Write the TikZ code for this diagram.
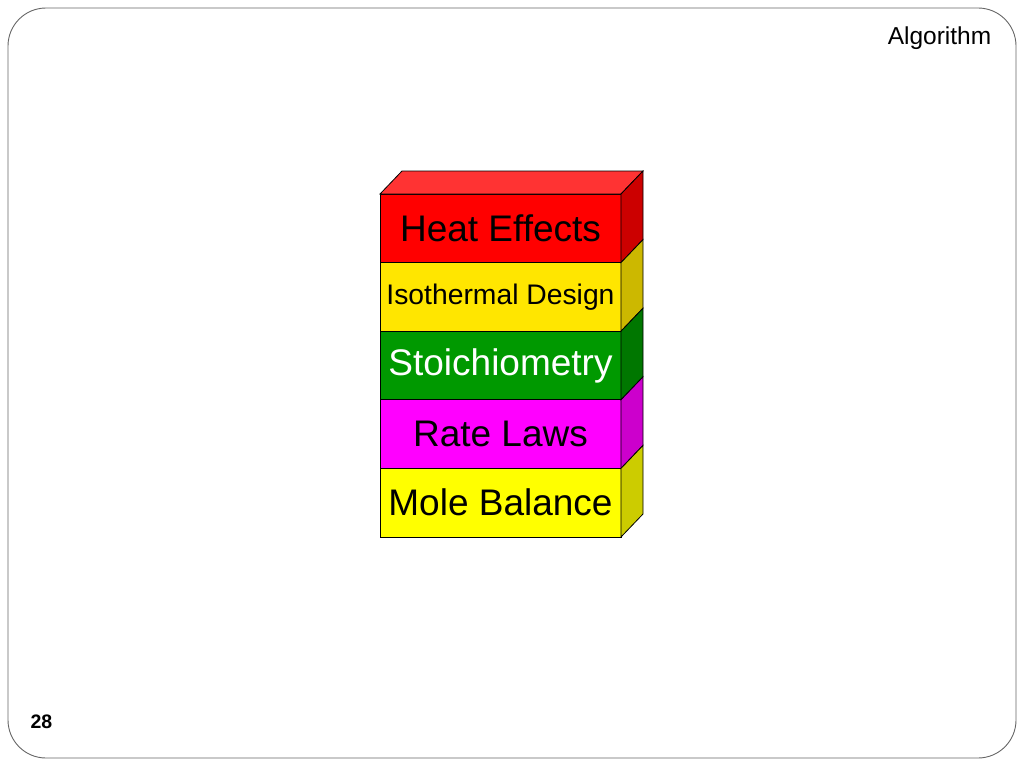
\documentclass[tikz,border=0pt]{standalone}
\usepackage{fontspec}
\setmainfont{Liberation Sans}
\usetikzlibrary{positioning}

\newcommand{\vardx}{22}
\newcommand{\vardy}{23}
\newcommand{\varw}{241}
\newcommand{\varh}{68.6}
\definecolor{heatred}{RGB}{255,0,0}
\definecolor{heattop}{RGB}{255,51,51}
\definecolor{heatside}{RGB}{204,0,0}
\definecolor{isoyellow}{RGB}{255,230,0}
\definecolor{isoside}{RGB}{204,184,0}
\definecolor{stoichgreen}{RGB}{0,153,0}
\definecolor{stoichside}{RGB}{0,119,0}
\definecolor{ratemag}{RGB}{255,0,255}
\definecolor{rateside}{RGB}{204,0,204}
\definecolor{moleyellow}{RGB}{255,255,0}
\definecolor{moleside}{RGB}{204,204,0}

\tikzset{
	layer/.style={draw, line width=0.8pt, minimum width=\varw pt, minimum height=\varh pt,
		inner sep=0pt, outer sep=0pt, font=\fontsize{37}{40}\selectfont},
	sideface/.style={draw, line width=0.8pt}
}

\begin{document}
\begin{tikzpicture}[x=1pt, y=-1pt]

	\useasboundingbox (0,0) rectangle (1024,768);

	% frame
	\draw [gray!80!black, line width=0.9pt, rounded corners=38pt] (8,8) rectangle (1016,758);
	\node (title) [font=\fontsize{24.5}{27}\selectfont] at (939.5,38) {Algorithm};
	\node (page) [font=\fontsize{19.5}{22}\selectfont\bfseries] at (41.5,722) {28};

	% layers
	\node [layer, fill=heatred] (heat) at (500.5,228.3) {Heat Effects};
	\node [layer, fill=isoyellow, below=0pt of heat, font=\fontsize{28.3}{30}\selectfont] (iso) {Isothermal Design};
	\node [layer, fill=stoichgreen, text=white, below=0pt of iso] (stoich) {Stoichiometry};
	\node [layer, fill=ratemag, below=0pt of stoich] (rate) {Rate Laws};
	\node [layer, fill=moleyellow, below=0pt of rate] (mole) {Mole Balance};

	% top
	\draw [sideface, fill=heattop] (heat.north west) -- ++(\vardx,-\vardy) -- ++(\varw,0) -- (heat.north east) -- cycle;

	% sides
	\draw [sideface, fill=heatside] (heat.north east) -- ++(\vardx,-\vardy) -- ++(0,\varh) -- (heat.south east) -- cycle;
	\draw [sideface, fill=isoside] (iso.north east) -- ++(\vardx,-\vardy) -- ++(0,\varh) -- (iso.south east) -- cycle;
	\draw [sideface, fill=stoichside] (stoich.north east) -- ++(\vardx,-\vardy) -- ++(0,\varh) -- (stoich.south east) -- cycle;
	\draw [sideface, fill=rateside] (rate.north east) -- ++(\vardx,-\vardy) -- ++(0,\varh) -- (rate.south east) -- cycle;
	\draw [sideface, fill=moleside] (mole.north east) -- ++(\vardx,-\vardy) -- ++(0,\varh) -- (mole.south east) -- cycle;

\end{tikzpicture}
\end{document}
